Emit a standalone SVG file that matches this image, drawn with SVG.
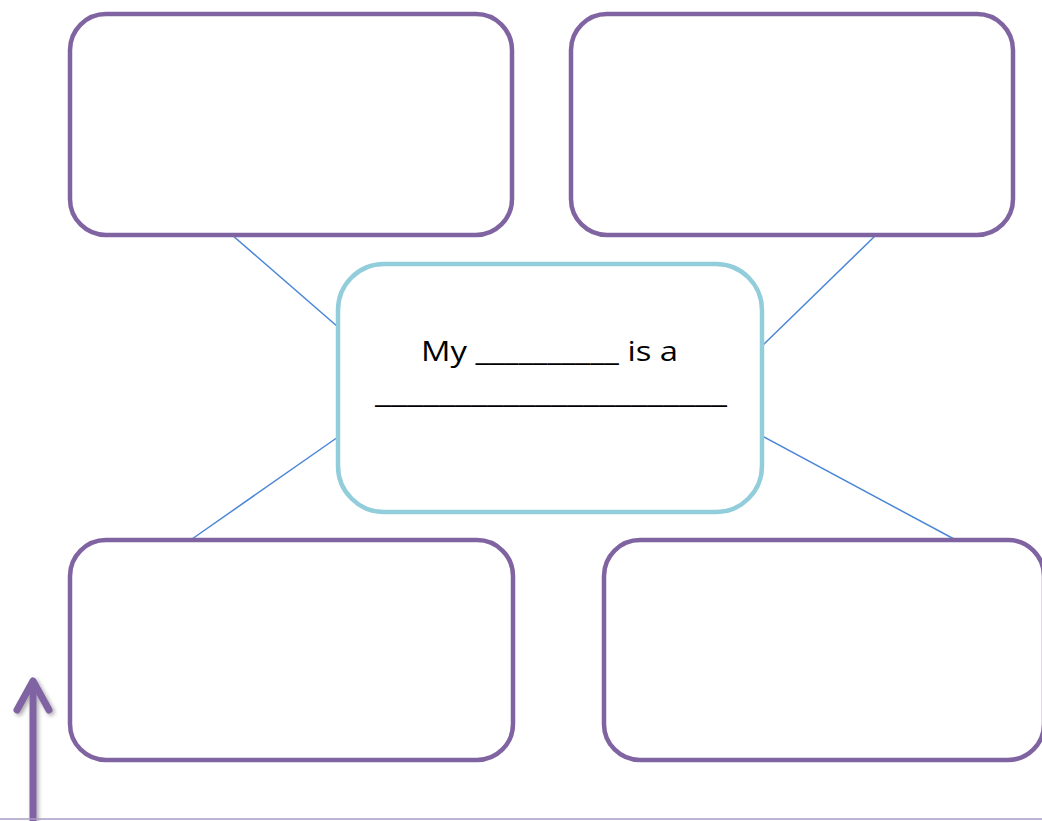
<svg xmlns="http://www.w3.org/2000/svg" width="1042" height="821" viewBox="0 0 1042 821">
<defs>
<style>
.box{fill:#fff;stroke:#8064A2;stroke-width:4.5}
.center{fill:#fff;stroke:#92CDDC;stroke-width:4.5}
.conn{stroke:#4A86D6;stroke-width:1.5;fill:none}
.txt{font-family:"Open Sans","DejaVu Sans",sans-serif;font-size:27px;fill:#000;text-anchor:middle}
</style>
<filter id="sh" x="-50%" y="-10%" width="200%" height="120%">
<feGaussianBlur in="SourceAlpha" stdDeviation="2"/>
<feOffset dx="2" dy="2"/>
<feComponentTransfer><feFuncA type="linear" slope="0.35"/></feComponentTransfer>
<feMerge><feMergeNode/><feMergeNode in="SourceGraphic"/></feMerge>
</filter>
</defs>
<rect width="1042" height="821" fill="#fff"/>
<g id="connectors">
<line class="conn" x1="232" y1="235" x2="338" y2="327"/>
<line class="conn" x1="875" y1="236" x2="762" y2="346"/>
<line class="conn" x1="192" y1="539" x2="338" y2="437"/>
<line class="conn" x1="954" y1="539" x2="762" y2="436"/>
</g>
<g id="box-top-left"><rect class="box" x="70" y="14" width="442" height="221" rx="36"/></g>
<g id="box-top-right"><rect class="box" x="571" y="14" width="442" height="221" rx="36"/></g>
<g id="box-bottom-left"><rect class="box" x="70" y="540" width="443" height="220" rx="36"/></g>
<g id="box-bottom-right"><rect class="box" x="604" y="540" width="440" height="220" rx="36"/></g>
<g id="center">
<rect class="center" x="338" y="264" width="424" height="248" rx="46"/>
<text class="txt" x="549.5" y="361" textLength="257" lengthAdjust="spacingAndGlyphs">My __________ is a</text>
<text class="txt" x="551" y="403" textLength="352" lengthAdjust="spacingAndGlyphs">______________________</text>
</g>
<g id="arrow" filter="url(#sh)">
<line x1="33" y1="821" x2="33" y2="684" stroke="#8064A2" stroke-width="7"/>
<polyline points="17,710 33,681 49,710" fill="none" stroke="#8064A2" stroke-width="7" stroke-linecap="round" stroke-linejoin="round"/>
</g>
<line id="baseline" x1="0" y1="819" x2="1042" y2="819" stroke="#A99BC6" stroke-width="1.5"/>
</svg>
